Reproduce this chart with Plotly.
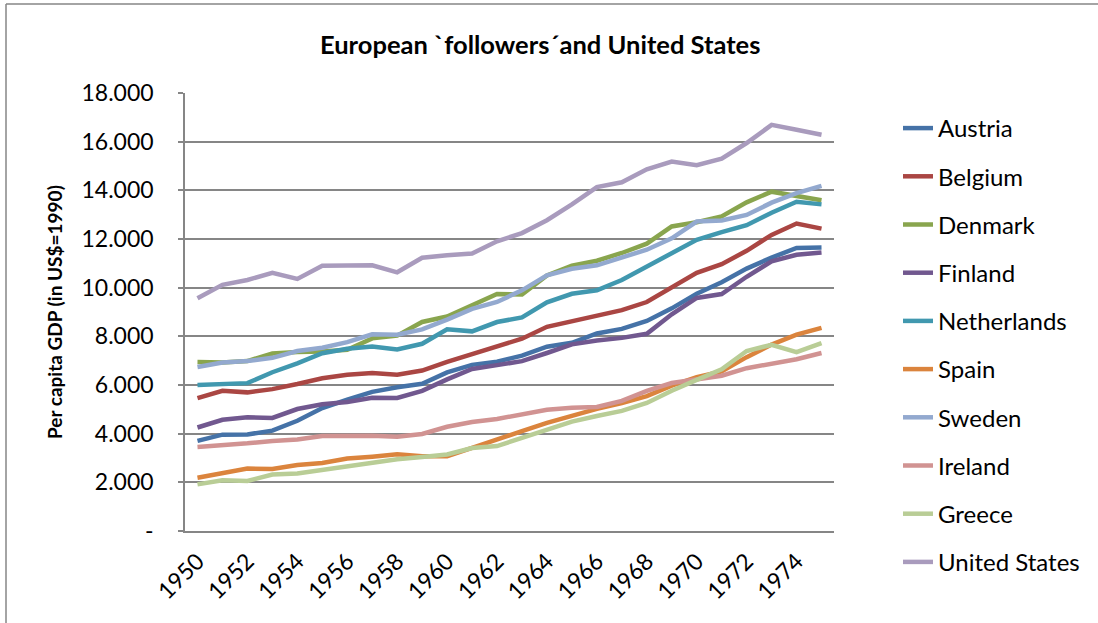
import plotly.graph_objects as go

years = [str(y) for y in range(1950, 1976)]
austria = [3706, 3959, 3966, 4126, 4531, 5053, 5397, 5716, 5907, 6051, 6519, 6827, 6960, 7205, 7573, 7733, 8118, 8307, 8630, 9150, 9747, 10225, 10785, 11235, 11630, 11646]
belgium = [5462, 5763, 5697, 5830, 6042, 6280, 6418, 6493, 6424, 6594, 6952, 7261, 7609, 7903, 8391, 8608, 8821, 9077, 9410, 10005, 10611, 10964, 11515, 12170, 12634, 12427]
denmark = [6943, 6929, 6984, 7293, 7357, 7376, 7451, 7918, 8029, 8592, 8812, 9270, 9737, 9715, 10505, 10906, 11108, 11425, 11808, 12514, 12686, 12925, 13507, 13945, 13751, 13596]
finland = [4253, 4571, 4674, 4648, 5013, 5211, 5302, 5479, 5468, 5758, 6230, 6658, 6818, 6979, 7315, 7669, 7827, 7936, 8103, 8906, 9577, 9740, 10448, 11085, 11355, 11441]
netherlands = [5996, 6050, 6077, 6524, 6888, 7305, 7488, 7580, 7461, 7693, 8287, 8205, 8588, 8780, 9397, 9749, 9892, 10316, 10864, 11407, 11967, 12284, 12567, 13082, 13529, 13423]
spain = [2189, 2397, 2568, 2546, 2715, 2793, 2977, 3056, 3150, 3074, 3072, 3414, 3740, 4105, 4445, 4733, 5017, 5256, 5541, 5977, 6319, 6555, 7144, 7661, 8069, 8346]
sweden = [6739, 6925, 6982, 7118, 7394, 7529, 7764, 8084, 8070, 8288, 8688, 9126, 9412, 9890, 10506, 10774, 10920, 11220, 11561, 12029, 12716, 12759, 12988, 13494, 13886, 14184]
ireland = [3453, 3518, 3604, 3703, 3760, 3900, 3910, 3910, 3870, 3989, 4282, 4478, 4605, 4776, 4980, 5060, 5100, 5350, 5760, 6080, 6220, 6380, 6690, 6890, 7060, 7316]
greece = [1915, 2086, 2058, 2318, 2360, 2509, 2693, 2845, 2950, 3040, 3146, 3409, 3491, 3825, 4154, 4498, 4729, 4936, 5260, 5764, 6211, 6645, 7397, 7655, 7350, 7722]
united_states = [9561, 10116, 10316, 10613, 10359, 10897, 10914, 10920, 10631, 11230, 11328, 11402, 11905, 12242, 12773, 13419, 14134, 14330, 14863, 15179, 15030, 15304, 15944, 16689, 16491, 16284]

series_names = ["Austria", "Belgium", "Denmark", "Finland", "Netherlands", "Spain",
                "Sweden", "Ireland", "Greece", "United States"]
series_values = [austria, belgium, denmark, finland, netherlands, spain,
                 sweden, ireland, greece, united_states]
colors = ["#4572A7", "#AA4643", "#89A54E", "#71588F", "#4198AF", "#DB843D",
          "#93A9CF", "#D19392", "#B9CD96", "#A99BBD"]

y_tickvals = list(range(0, 18001, 2000))
y_ticktext = ["-"] + [f"{v // 1000}.000" for v in y_tickvals[1:]]
x_tickvals = [str(y) for y in range(1950, 1976, 2)]

FONT = "Lato"
W, H = 1098, 623
L, R, T, B = 185, 1098 - 834, 10, 10
pw, ph = W - L - R, H - T - B
PLOT_TOP, PLOT_BOTTOM = 93, 531

def px_x(px):
    return (px - L) / pw

def px_y(py):
    return (H - B - py) / ph

fig = go.Figure()
for name, vals, col in zip(series_names, series_values, colors):
    fig.add_trace(go.Scatter(x=years, y=vals, name=name, mode="lines",
                             legendgroup=name,
                             line=dict(color=col, width=4.5)))

fig.update_layout(
    width=W, height=H,
    margin=dict(l=L, r=R, t=T, b=B),
    paper_bgcolor="white", plot_bgcolor="white",
    font=dict(family=FONT, color="black", size=20),
    showlegend=True,
    legend=dict(x=px_x(898), y=px_y(106), xanchor="left", yanchor="top",
                font=dict(family=FONT, size=24, color="black"),
                tracegroupgap=14, maxheight=1,
                bgcolor="rgba(0,0,0,0)"),
    xaxis=dict(type="category", range=[-0.5, 25.5], tickmode="array",
               tickvals=x_tickvals, ticktext=x_tickvals, tickangle=-45,
               showgrid=False, showline=True, linecolor="#868686", linewidth=1.5,
               ticks="", ticklabelstandoff=6, automargin=False,
               tickfont=dict(family=FONT, size=23, color="black")),
    yaxis=dict(range=[0, 18000], tickmode="array", tickvals=y_tickvals,
               domain=[px_y(PLOT_BOTTOM), px_y(PLOT_TOP)],
               ticktext=y_ticktext, showgrid=True, gridcolor="#868686", gridwidth=1.5,
               showline=True, linecolor="#868686", linewidth=1.5,
               ticks="outside", ticklen=5, tickcolor="#868686", tickwidth=1.5,
               ticklabelstandoff=20, zeroline=False, automargin=False,
               tickfont=dict(family=FONT, size=23, color="black")),
    annotations=[
        dict(text="<b>European `followers´and United States</b>", xref="paper", yref="paper",
             x=px_x(540), y=px_y(44), xanchor="center", yanchor="middle", showarrow=False,
             font=dict(family=FONT, size=25.5, color="black")),
        dict(text="<b>Per capita GDP (in US$=1990)</b>", xref="paper", yref="paper",
             x=px_x(55), y=px_y(312), xanchor="center", yanchor="middle", showarrow=False,
             textangle=-90, font=dict(family=FONT, size=19, color="black")),
    ],
    shapes=[
        dict(type="line", xref="paper", yref="paper", x0=px_x(6), x1=px_x(6),
             y0=px_y(4), y1=px_y(640), line=dict(color="#868686", width=1.5)),
        dict(type="line", xref="paper", yref="paper", x0=px_x(6), x1=px_x(1110),
             y0=px_y(4), y1=px_y(4), line=dict(color="#868686", width=1.5)),
    ],
)

fig.write_html("out.html", config={"displayModeBar": False},
               post_script="document.body.style.margin='0';document.body.style.overflow='hidden';")
